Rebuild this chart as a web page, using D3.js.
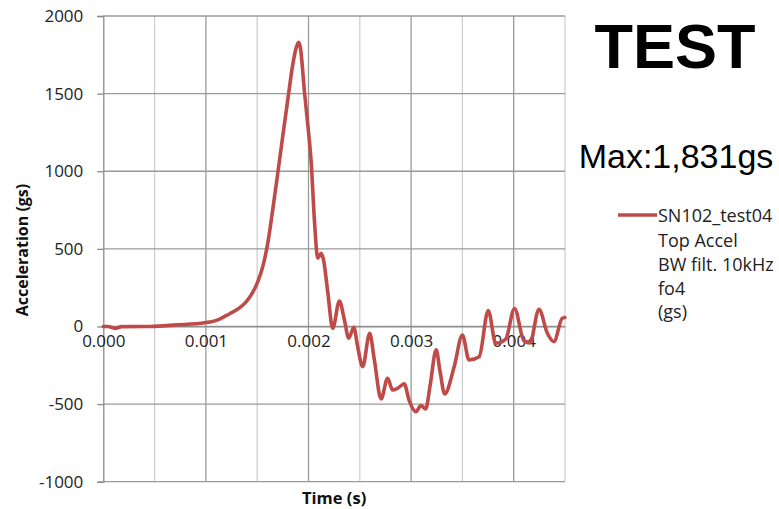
<!DOCTYPE html>
<html>
<head>
<meta charset="utf-8">
<script src="https://cdn.jsdelivr.net/npm/d3@7"></script>
<style>
  html, body { margin: 0; padding: 0; background: #fff; }
  svg { display: block; }
</style>
</head>
<body>
<svg id="chart" width="779" height="509"></svg>
<script>
// ---- data (time in seconds, acceleration in gs) ----
const timeS = [
  0.000000, 0.000046, 0.000114, 0.000180, 0.000454, 0.000714, 0.000989, 0.001135,
  0.001183, 0.001232, 0.001300, 0.001346, 0.001394, 0.001443, 0.001507, 0.001556,
  0.001604, 0.001653, 0.001701, 0.001750, 0.001800, 0.001845, 0.001878, 0.001903,
  0.001920, 0.001961, 0.001993, 0.002026, 0.002060, 0.002090, 0.002123, 0.002146,
  0.002188, 0.002236, 0.002301, 0.002350, 0.002392, 0.002442, 0.002479, 0.002528,
  0.002596, 0.002642, 0.002707, 0.002771, 0.002820, 0.002868, 0.002933, 0.002980,
  0.003047, 0.003096, 0.003142, 0.003186, 0.003244, 0.003283, 0.003327, 0.003420,
  0.003500, 0.003565, 0.003663, 0.003752, 0.003825, 0.003922, 0.004008, 0.004100,
  0.004159, 0.004246, 0.004327, 0.004392, 0.004473, 0.004499
];
const accelGs = [
  0, 0, -12, -1, 0, 10, 24, 48,
  65, 82, 108, 130, 160, 205, 290, 390,
  540, 760, 990, 1230, 1470, 1680, 1790, 1831,
  1800, 1510, 1300, 1060, 660, 440, 472, 430,
  220, -12, 164, 42, -76, -6, -130, -259,
  -44, -216, -467, -334, -409, -398, -370, -474,
  -549, -509, -532, -377, -151, -293, -435, -259,
  -55, -216, -195, 103, -108, -81, 116, -93,
  -104, 111, -42, -98, 53, 58
];
const xTicks = [0, 0.001, 0.002, 0.003, 0.004];
const xMinorGrid = [0.0005, 0.0015, 0.0025, 0.0035, 0.0045];
const yTicks = [-1000, -500, 0, 500, 1000, 1500, 2000];
const seriesName = ["SN102_test04", "Top Accel", "BW filt. 10kHz", "fo4", "(gs)"];
const titleText = "TEST";
const maxText = "Max:1,831gs";
const xTitle = "Time (s)";
const yTitle = "Acceleration (gs)";

// ---- drawing ----
const svg = d3.select("#chart");
const lineColor = "#BE4B48";
const tickFont = "'Open Sans', sans-serif";

const x = d3.scaleLinear().domain([0, 0.0045]).range([103.3, 565]);
const y = d3.scaleLinear().domain([-1000, 2000]).range([481.7, 16]);

const grid = svg.append("g");
// minor vertical gridlines
grid.selectAll("line.vminor").data(xMinorGrid).enter().append("line")
  .attr("x1", d => x(d)).attr("x2", d => x(d))
  .attr("y1", y(2000)).attr("y2", y(-1000))
  .attr("stroke", "#cfcfcf").attr("stroke-width", 1.3);
// major vertical gridlines
grid.selectAll("line.vmajor").data(xTicks.slice(1)).enter().append("line")
  .attr("x1", d => x(d)).attr("x2", d => x(d))
  .attr("y1", y(2000)).attr("y2", y(-1000))
  .attr("stroke", "#9a9a9a").attr("stroke-width", 1.3);
// horizontal gridlines
grid.selectAll("line.h").data(yTicks).enter().append("line")
  .attr("x1", x(0)).attr("x2", x(0.0045))
  .attr("y1", d => y(d)).attr("y2", d => y(d))
  .attr("stroke", "#9a9a9a").attr("stroke-width", 1.3);

// y axis
const yAxis = d3.axisLeft(y).tickValues(yTicks).tickSize(6).tickPadding(14).tickFormat(d => String(d));
const yg = svg.append("g").attr("transform", `translate(${x(0)},0)`).call(yAxis);
yg.select(".domain").attr("stroke", "#8a8a8a").attr("stroke-width", 1.3);
yg.selectAll(".tick line").attr("stroke", "#8a8a8a").attr("stroke-width", 1.3);
yg.selectAll(".tick text").attr("font-family", tickFont).attr("font-size", 17).attr("fill", "#222");

// x axis at zero
const xAxis = d3.axisBottom(x).tickValues(xTicks).tickSize(0).tickPadding(8).tickFormat(d3.format(".3f"));
const xg = svg.append("g").attr("transform", `translate(0,${y(0)})`).call(xAxis);
xg.select(".domain").attr("stroke", "#8a8a8a").attr("stroke-width", 1.3);
xg.selectAll(".tick text").attr("font-family", tickFont).attr("font-size", 17).attr("fill", "#222");

// series line
const data = timeS.map((t, i) => ({ t, v: accelGs[i] }));
const line = d3.line().x(d => x(d.t)).y(d => y(d.v)).curve(d3.curveMonotoneX);
svg.append("path").datum(data)
  .attr("d", line)
  .attr("fill", "none")
  .attr("stroke", lineColor)
  .attr("stroke-width", 3.6)
  .attr("stroke-linejoin", "round")
  .attr("stroke-linecap", "round");

// axis titles
svg.append("text")
  .attr("transform", "translate(28,250) rotate(-90)")
  .attr("text-anchor", "middle")
  .attr("font-family", tickFont).attr("font-weight", "bold").attr("font-size", 16)
  .attr("fill", "#111")
  .text(yTitle);
svg.append("text")
  .attr("x", (x(0) + x(0.0045)) / 2).attr("y", 504)
  .attr("text-anchor", "middle")
  .attr("font-family", tickFont).attr("font-weight", "bold").attr("font-size", 16.5)
  .attr("fill", "#111")
  .text(xTitle);

// big title and max annotation
svg.append("text")
  .attr("x", 675).attr("y", 68)
  .attr("text-anchor", "middle")
  .attr("font-family", "'Liberation Sans', Arial, sans-serif")
  .attr("font-weight", "bold").attr("font-size", 63)
  .attr("fill", "#000")
  .text(titleText);
svg.append("text")
  .attr("x", 676).attr("y", 168)
  .attr("text-anchor", "middle")
  .attr("font-family", "'Liberation Sans', Arial, sans-serif")
  .attr("font-size", 34)
  .attr("fill", "#000")
  .text(maxText);

// legend
const lg = svg.append("g");
lg.append("line")
  .attr("x1", 618).attr("x2", 657).attr("y1", 215).attr("y2", 215)
  .attr("stroke", lineColor).attr("stroke-width", 3.6);
const baselines = [222, 247, 271, 295, 318];
lg.selectAll("text").data(seriesName).enter().append("text")
  .attr("x", 658).attr("y", (d, i) => baselines[i])
  .attr("font-family", tickFont).attr("font-size", 18)
  .attr("fill", "#222")
  .text(d => d);
</script>
</body>
</html>
